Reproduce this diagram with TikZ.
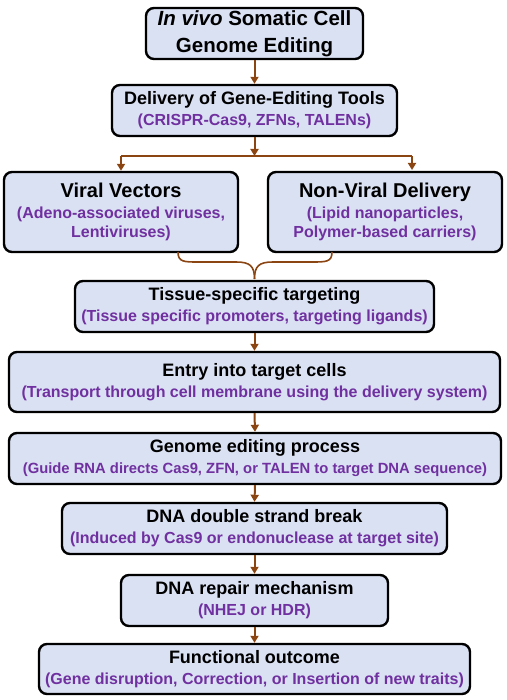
\documentclass[tikz,border=0pt]{standalone}
\usepackage{fontspec}
\setmainfont{Liberation Sans}
\usetikzlibrary{arrows.meta}
\definecolor{boxfill}{HTML}{DAE1F3}
\definecolor{subpurple}{HTML}{7030A0}
\definecolor{arrbrown}{HTML}{8B4513}
\tikzset{
  box/.style={draw=black, line width=2.4pt, rounded corners=8pt, fill=boxfill,
    align=center, inner sep=2pt, font=\bfseries\fontsize{16}{21}\selectfont},
  arr/.style={draw=arrbrown, line width=2pt, -{Triangle[length=7pt,width=8pt]}},
  conn/.style={draw=arrbrown, line width=2pt},
  bracel/.style={draw=arrbrown, line width=1.6pt},
}
\newcommand{\hd}[1]{{\fontsize{18}{21}\selectfont #1}}
\newcommand{\hdb}[1]{{\fontsize{20}{22}\selectfont #1}}
\newcommand{\sub}[1]{{\color{subpurple}#1}}
\begin{document}
\begin{tikzpicture}[x=1pt,y=1pt]
\useasboundingbox (0,0) rectangle (506,-700);
\node[box, minimum width=217pt, minimum height=51pt, font=\bfseries\fontsize{20.5}{27}\selectfont] (b1) at (254.5,-33.5) {\textit{In vivo} Somatic Cell\\Genome Editing};
\node[box, minimum width=285pt, minimum height=51pt] (b2) at (254.5,-110.5) {\hd{Delivery of Gene-Editing Tools}\\\sub{(CRISPR-Cas9, ZFNs, TALENs)}};
\node[box, minimum width=234pt, minimum height=80pt, font=\bfseries\fontsize{16}{19}\selectfont] (b3) at (121,-212) {\hdb{Viral Vectors}\\[2pt]\sub{(Adeno-associated viruses,}\\\sub{Lentiviruses)}};
\node[box, minimum width=234pt, minimum height=80pt, font=\bfseries\fontsize{16}{19}\selectfont] (b4) at (385,-212) {\hdb{Non-Viral Delivery}\\[2pt]\sub{(Lipid nanoparticles,}\\\sub{Polymer-based carriers)}};
\node[box, minimum width=359pt, minimum height=51pt] (b5) at (254.5,-306.5) {\hd{Tissue-specific targeting}\\\sub{(Tissue specific promoters, targeting ligands)}};
\node[box, minimum width=491pt, minimum height=60pt] (b6) at (254.5,-382) {\hd{Entry into target cells}\\\sub{(Transport through cell membrane using the delivery system)}};
\node[box, minimum width=492pt, minimum height=51pt] (b7) at (255,-458.5) {\hd{Genome editing process}\\\sub{\fontsize{14.8}{21}\selectfont(Guide RNA directs Cas9, ZFN, or TALEN to target DNA sequence)}};
\node[box, minimum width=385pt, minimum height=51pt] (b8) at (254.5,-528.5) {\hd{DNA double strand break}\\\sub{(Induced by Cas9 or endonuclease at target site)}};
\node[box, minimum width=267pt, minimum height=51pt] (b9) at (254.5,-600.5) {\hd{DNA repair mechanism}\\\sub{(NHEJ or HDR)}};
\node[box, minimum width=431pt, minimum height=50pt] (b10) at (254.5,-669) {\hd{Functional outcome}\\\sub{(Gene disruption, Correction, or Insertion of new traits)}};
% connectors
\coordinate (bp) at (254.5,-156);
\coordinate (bl) at (121,-156);
\coordinate (br) at (412,-156);
\coordinate (brd) at (412,-170);
\draw[arr] (b1.south) -- (b2.north);
\draw[arr] (b2.south) -- (bp);
\draw[conn] (bl) -- (br);
\draw[arr] (bl) -- (b3.north);
\draw[arr] (br) -- (brd);
% brace
\coordinate (bra) at (178,-252);
\coordinate (brb) at (332,-252);
\coordinate (brt) at (254.5,-279);
\draw[bracel] (bra) .. controls (178,-262) and (184,-262) .. (198,-262) -- (236,-262) .. controls (250,-262) and (254.5,-266) .. (brt);
\draw[bracel] (brb) .. controls (332,-262) and (326,-262) .. (312,-262) -- (273,-262) .. controls (259,-262) and (254.5,-266) .. (brt);
\draw[arr] (b5.south) -- (b6.north);
\draw[arr] (b6.south) -- (b7.north);
\draw[arr] (b7.south) -- (b8.north);
\draw[arr] (b8.south) -- (b9.north);
\draw[arr] (b9.south) -- (b10.north);
\end{tikzpicture}
\end{document}
